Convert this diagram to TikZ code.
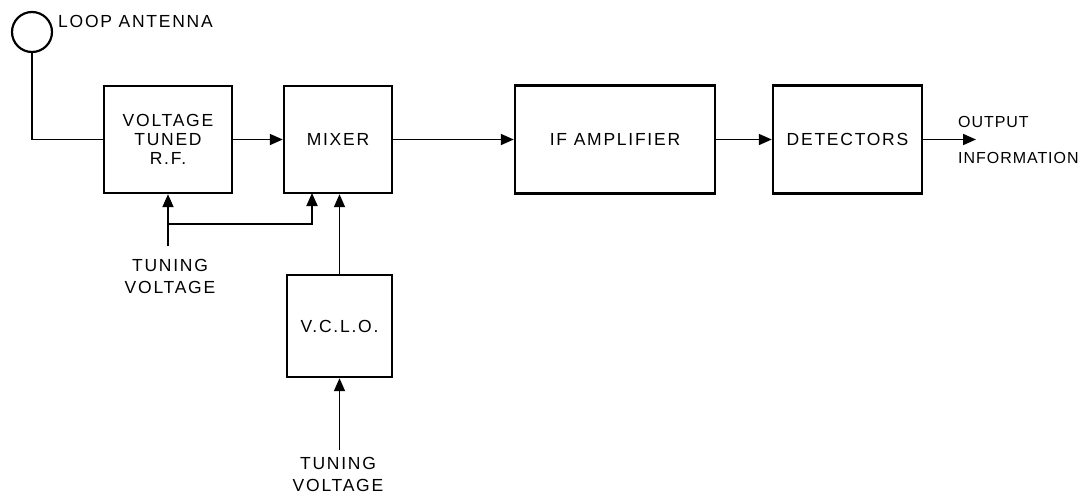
\documentclass[tikz,border=0pt]{standalone}
\usepackage{fontspec}
\setmainfont{Liberation Sans}[LetterSpace=10]
\newfontfamily\narrowlbl{Liberation Sans}[LetterSpace=6]
\usetikzlibrary{arrows.meta}
\begin{document}
\begin{tikzpicture}[x=1pt,y=-1pt,
  blk/.style={draw,line width=2.4pt,inner sep=0pt,font=\fontsize{17.5}{19}\selectfont,align=center},
  lbl/.style={inner sep=0pt,font=\fontsize{17.5}{22}\selectfont,align=center},
  olbl/.style={inner sep=0pt,font=\narrowlbl\fontsize{16}{22}\selectfont},
  conn/.style={line width=1.8pt},
  arr/.style={line width=1.8pt,-{Triangle[length=13pt,width=11pt]}}]
\useasboundingbox (0,0) rectangle (1090,498);
\node[draw,circle,line width=2.2pt,minimum size=40pt,inner sep=0pt] (ant) at (32,32) {};
\node[lbl,anchor=west] (antl) at (58,21) {LOOP ANTENNA};
\node[blk,minimum width=128pt,minimum height=107pt] (rf) at (168,139.5) {VOLTAGE\\TUNED\\R.F.};
\node[blk,minimum width=108pt,minimum height=107pt] (mix) at (338,139.5) {MIXER};
\node[blk,minimum width=200pt,minimum height=108pt] (if) at (615,139.5) {IF AMPLIFIER};
\node[blk,minimum width=149pt,minimum height=108pt] (det) at (847.5,139.5) {DETECTORS};
\node[blk,minimum width=105pt,minimum height=102pt] (vclo) at (339.5,326) {V.C.L.O.};
\coordinate (out) at (976,139.5);
\node[olbl,anchor=west] (outl1) at (958,122) {OUTPUT};
\node[olbl,anchor=west] (outl2) at (958,158) {INFORMATION};
\coordinate (t1) at (168,246);
\coordinate (j) at (168,224);
\coordinate (mixin) at (312,193);
\node[lbl] (tv1) at (170,276) {TUNING\\VOLTAGE};
\coordinate (t2) at (339.5,450);
\node[lbl] (tv2) at (338,474) {TUNING\\VOLTAGE};
\draw[conn] (ant.south) -- (ant.south |- rf.west) -- (rf.west);
\draw[arr] (rf.east) -- (mix.west);
\draw[arr] (mix.east) -- (if.west);
\draw[arr] (if.east) -- (det.west);
\draw[arr] (det.east) -- (out);
\draw[arr] (t1) -- (rf.south);
\draw[arr] (j) -| (mixin);
\draw[arr] (vclo.north) -- (vclo.north |- mix.south);
\draw[arr] (t2) -- (vclo.south);
\end{tikzpicture}
\end{document}
